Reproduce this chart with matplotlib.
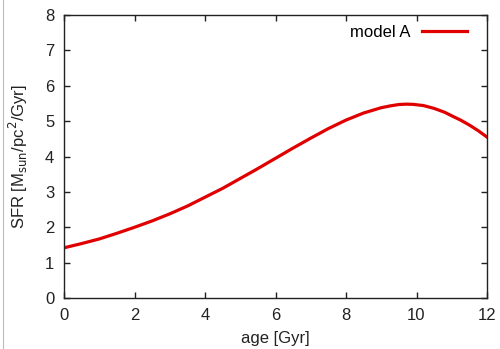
import matplotlib
matplotlib.use("Agg")
import matplotlib.pyplot as plt
from matplotlib.lines import Line2D

plt.rcParams['font.family'] = ['Liberation Sans', 'DejaVu Sans']

# SFR history
age = [0, 0.5, 1, 1.5, 2, 2.5, 3, 3.5, 4, 4.5, 5, 5.5, 6, 6.5, 7, 7.5,
       8, 8.5, 9, 9.25, 9.5, 9.7, 9.9, 10.2, 10.5, 10.8, 11, 11.25, 11.5,
       11.75, 12]
sfr = [1.42, 1.54, 1.67, 1.83, 2.0, 2.18, 2.38, 2.6, 2.85, 3.1, 3.38, 3.66,
       3.95, 4.24, 4.52, 4.79, 5.03, 5.23, 5.38, 5.43, 5.47, 5.48, 5.475,
       5.44, 5.36, 5.25, 5.15, 5.03, 4.89, 4.73, 4.55]

fig = plt.figure(figsize=(5.0, 3.49), dpi=100)
ax = fig.add_axes([0.128, 0.146, 0.846, 0.811])

ax.plot(age, sfr, color='#e00000', lw=2.3, label='model A')

ax.set_xlim(0, 12)
ax.set_ylim(0, 8)
ax.set_xticks(range(0, 13, 2))
ax.set_yticks(range(0, 9))
ax.tick_params(direction='in', top=True, right=True, length=4, width=1,
               labelsize=12, colors='#222222', pad=7)
for s in ax.spines.values():
    s.set_color('#222222')
    s.set_linewidth(1)

ax.set_xlabel('age [Gyr]', fontsize=12, color='#222222', labelpad=6)
ax.set_ylabel(r'SFR [M$_{\rm sun}$/pc$^2$/Gyr]', fontsize=12, color='#222222', labelpad=11)

ax.legend(loc='upper right', bbox_to_anchor=(0.965, 0.984), frameon=False,
          markerfirst=False, fontsize=12, handlelength=2.7, borderaxespad=0,
          handletextpad=0.7, borderpad=0.3)

# thin grey frame edge at the left of the image
fig.add_artist(Line2D([0.006, 0.006], [0.0, 1.0], color='#bbbbbb', lw=0.8))

fig.savefig('out.png', dpi=100)
